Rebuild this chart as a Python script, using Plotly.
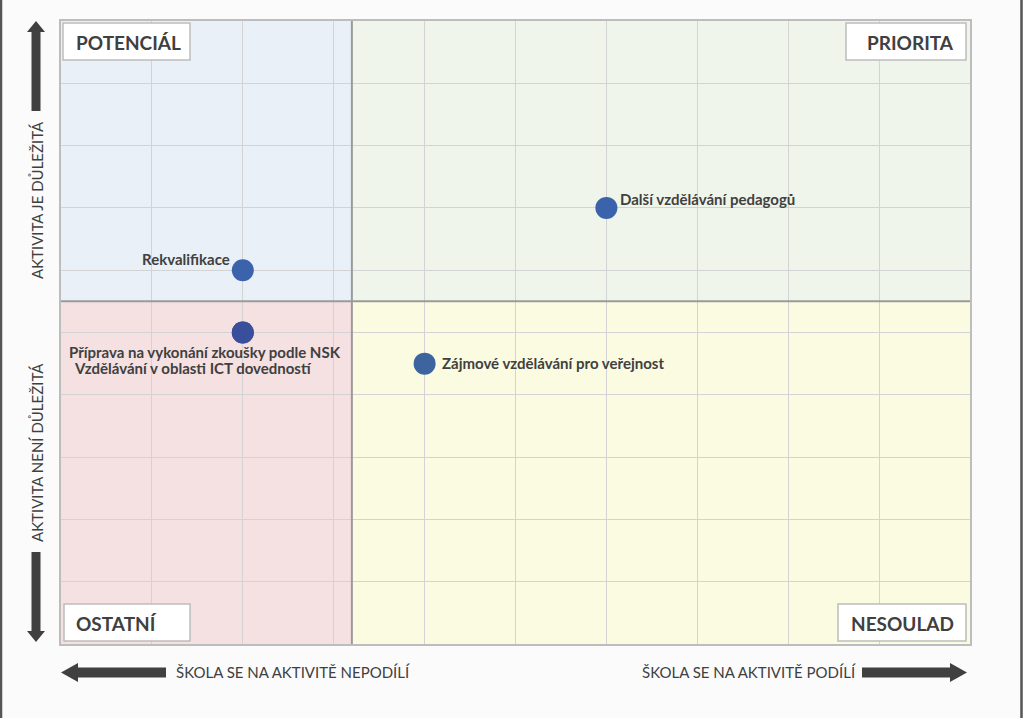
import plotly.graph_objects as go

# ---- data ----
activities = ["Rekvalifikace", "Další vzdělávání pedagogů", "Zájmové vzdělávání pro veřejnost",
              "Příprava na vykonání zkoušky podle NSK", "Vzdělávání v oblasti ICT dovedností"]
participation = [2, 6, 4, 2, 2]      # x: škola se na aktivitě podílí
importance = [6, 7, 4.5, 5, 5]       # y: aktivita je důležitá
x_split = 3.2
y_split = 5.5
x_range = [0, 10]
y_range = [0, 10]
quadrant_names = ["POTENCIÁL", "PRIORITA", "OSTATNÍ", "NESOULAD"]
axis_texts = ["AKTIVITA JE DŮLEŽITÁ", "AKTIVITA NENÍ DŮLEŽITÁ",
              "ŠKOLA SE NA AKTIVITĚ NEPODÍLÍ", "ŠKOLA SE NA AKTIVITĚ PODÍLÍ"]

# ---- layout geometry (pixels) ----
W, H = 1023, 718
L, R, T, B = 61, 53, 21, 74
PW, PH = W - L - R, H - T - B

def px(x):
    return (x - L) / PW

def py(y):
    return (H - B - y) / PH

FONT = "Lato, 'Open Sans', sans-serif"
TXT = "#404040"

marker_colors = ["#3b63ab", "#3b63ab", "#3d649f", "#3a4f9b", "#3a4f9b"]
label_cfg = [  # xanchor, xshift, yshift
    ("right", -11, 11),
    ("left", 12, 9),
    ("left", 15, 1),
    ("left", -176, -19),
    ("left", -171, -35),
]

fig = go.Figure()
fig.add_trace(go.Scatter(
    x=participation, y=importance, mode="markers",
    marker=dict(size=22, color=marker_colors, line=dict(width=0)),
    hoverinfo="text", text=activities, showlegend=False,
))

shapes = []
# quadrant backgrounds
quads = [
    (x_range[0], x_split, y_split, y_range[1], "#e9f0f8"),
    (x_split, x_range[1], y_split, y_range[1], "#f0f5ec"),
    (x_range[0], x_split, y_range[0], y_split, "#f5e0e2"),
    (x_split, x_range[1], y_range[0], y_split, "#fbfbe2"),
]
for x0, x1, y0, y1, c in quads:
    shapes.append(dict(type="rect", xref="x", yref="y", x0=x0, x1=x1, y0=y0, y1=y1,
                       fillcolor=c, line=dict(width=0), layer="below"))
# dividers
shapes.append(dict(type="line", xref="x", yref="y", x0=x_split, x1=x_split,
                   y0=y_range[0], y1=y_range[1], line=dict(color="#9a9a9a", width=2)))
shapes.append(dict(type="line", xref="x", yref="y", x0=x_range[0], x1=x_range[1],
                   y0=y_split, y1=y_split, line=dict(color="#9a9a9a", width=2)))

# quadrant label boxes: (x0,x1,y0,y1) in px, text anchor
boxes = [
    (63, 190, 23, 60, 74, "left"),
    (846, 966, 23, 60, 956, "right"),
    (64, 190, 604, 641, 74, "left"),
    (838, 966, 604, 641, 956, "right"),
]
annotations = []
for (x0, x1, y0, y1, tx, anc), name in zip(boxes, quadrant_names):
    shapes.append(dict(type="rect", xref="paper", yref="paper",
                       x0=px(x0), x1=px(x1), y0=py(y1), y1=py(y0),
                       fillcolor="white", line=dict(color="#bdbdbd", width=1.5)))
    annotations.append(dict(xref="paper", yref="paper", x=px(tx), y=py((y0 + y1) / 2 + 1),
                            text=f"<b>{name}</b>", showarrow=False, xanchor=anc, yanchor="middle",
                            font=dict(family=FONT, size=19, color=TXT)))

# arrows (paper coords)
ARC = "#404040"
def poly(pts):
    return "M " + " L ".join(f"{px(a):.5f},{py(b):.5f}" for a, b in pts) + " Z"

up = [(31.5, 111), (31.5, 32), (27, 32), (36, 21), (45, 32), (40.5, 32), (40.5, 111)]
down = [(31.5, 552), (31.5, 631), (27, 631), (36, 642), (45, 631), (40.5, 631), (40.5, 552)]
left = [(166, 667.5), (78, 667.5), (78, 663), (61, 672.5), (78, 682), (78, 677.5), (166, 677.5)]
right = [(862, 667.5), (950, 667.5), (950, 663), (967, 672.5), (950, 682), (950, 677.5), (862, 677.5)]
for p in (up, down, left, right):
    shapes.append(dict(type="path", xref="paper", yref="paper", path=poly(p),
                       fillcolor=ARC, line=dict(width=0)))

# frame lines at page edges
for xx in (1, 1021.5):
    shapes.append(dict(type="line", xref="paper", yref="paper", x0=px(xx), x1=px(xx),
                       y0=py(0), y1=py(H), line=dict(color="#555555", width=2.5)))

# axis texts
AX_FONT = dict(family=FONT, size=15, color=TXT)
annotations.append(dict(xref="paper", yref="paper", x=px(37), y=py(200), text=axis_texts[0],
                        textangle=-90, xanchor="center", yanchor="middle",
                        showarrow=False, font=AX_FONT))
annotations.append(dict(xref="paper", yref="paper", x=px(37), y=py(453), text=axis_texts[1],
                        textangle=-90, xanchor="center", yanchor="middle",
                        showarrow=False, font=AX_FONT))
annotations.append(dict(xref="paper", yref="paper", x=px(174), y=py(672), text=axis_texts[2],
                        xanchor="left", yanchor="middle", showarrow=False, font=AX_FONT))
annotations.append(dict(xref="paper", yref="paper", x=px(858), y=py(672), text=axis_texts[3],
                        xanchor="right", yanchor="middle", showarrow=False, font=AX_FONT))

# point labels
for name, xv, yv, (anc, xs, ys) in zip(activities, participation, importance, label_cfg):
    annotations.append(dict(x=xv, y=yv, xref="x", yref="y", text=f"<b>{name}</b>",
                            showarrow=False, xanchor=anc, yanchor="middle", xshift=xs, yshift=ys,
                            font=dict(family=FONT, size=15, color=TXT)))

fig.update_layout(
    width=W, height=H,
    margin=dict(l=L, r=R, t=T, b=B, pad=0),
    paper_bgcolor="#fbfbfb", plot_bgcolor="rgba(0,0,0,0)",
    xaxis=dict(range=x_range, dtick=1, showgrid=True, gridcolor="#d3d3d3", gridwidth=1,
               zeroline=False, showticklabels=False, ticks="", showline=True, mirror=True,
               linecolor="#bdbdbd", linewidth=1.5, fixedrange=True),
    yaxis=dict(range=y_range, dtick=1, showgrid=True, gridcolor="#d3d3d3", gridwidth=1,
               zeroline=False, showticklabels=False, ticks="", showline=True, mirror=True,
               linecolor="#bdbdbd", linewidth=1.5, fixedrange=True),
    shapes=shapes, annotations=annotations,
)

fig.write_html("out.html")
